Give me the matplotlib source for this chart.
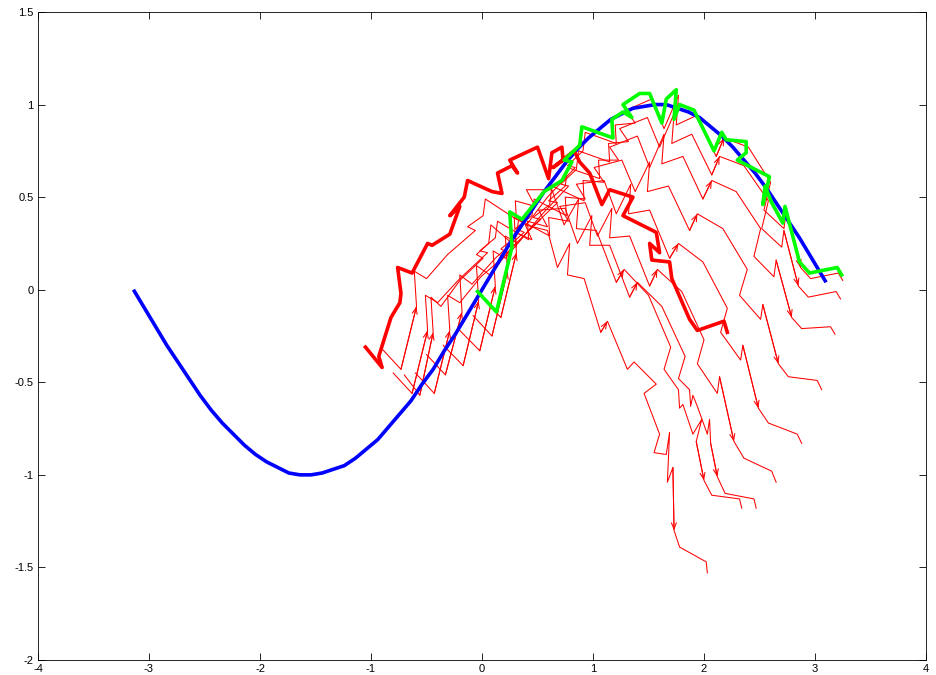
import matplotlib
matplotlib.use("Agg")
import matplotlib.pyplot as plt

plt.rcParams['font.family'] = ['Liberation Sans', 'DejaVu Sans']
plt.rcParams['axes.unicode_minus'] = False

# true trajectory (blue)
true_x = [-3.14, -3.04, -2.94, -2.84, -2.74, -2.64, -2.54, -2.44, -2.34, -2.24, -2.14, -2.04,
          -1.94, -1.84, -1.74, -1.64, -1.54, -1.44, -1.34, -1.24, -1.14, -1.04, -0.94, -0.84,
          -0.74, -0.64, -0.54, -0.44, -0.34, -0.24, -0.14, -0.04, 0.06, 0.16, 0.26, 0.36,
          0.46, 0.56, 0.66, 0.76, 0.86, 0.96, 1.06, 1.16, 1.26, 1.36, 1.46, 1.56, 1.66, 1.76,
          1.86, 1.96, 2.06, 2.16, 2.26, 2.36, 2.46, 2.56, 2.66, 2.76, 2.86, 2.96, 3.06, 3.10]
true_y = [0.00, -0.10, -0.20, -0.30, -0.39, -0.48, -0.57, -0.65, -0.72, -0.78, -0.84, -0.89,
          -0.93, -0.96, -0.99, -1.00, -1.00, -0.99, -0.97, -0.95, -0.91, -0.86, -0.81, -0.74,
          -0.67, -0.60, -0.51, -0.43, -0.33, -0.24, -0.14, -0.04, 0.06, 0.16, 0.26, 0.35,
          0.44, 0.53, 0.61, 0.69, 0.76, 0.82, 0.87, 0.92, 0.95, 0.98, 0.99, 1.00, 1.00, 0.98,
          0.96, 0.93, 0.88, 0.83, 0.77, 0.70, 0.63, 0.55, 0.46, 0.37, 0.28, 0.18, 0.08, 0.04]

# measured trajectory (green)
meas_x = [-0.04, 0.13, 0.27, 0.25, 0.36, 0.56, 0.72, 0.81, 0.74, 0.88, 0.90, 1.18, 1.17,
          1.27, 1.35, 1.27, 1.42, 1.51, 1.62, 1.66, 1.75, 1.73, 1.78, 1.91, 2.09, 2.16,
          2.20, 2.38, 2.38, 2.30, 2.59, 2.53, 2.55, 2.61, 2.71, 2.73, 2.86, 2.95, 3.20, 3.24]
meas_y = [-0.01, -0.12, 0.23, 0.42, 0.38, 0.53, 0.59, 0.69, 0.70, 0.78, 0.88, 0.82, 0.92,
          0.96, 0.93, 1.00, 1.06, 1.06, 0.90, 1.03, 1.08, 0.92, 1.00, 0.97, 0.75, 0.85,
          0.81, 0.80, 0.74, 0.70, 0.61, 0.46, 0.56, 0.47, 0.36, 0.45, 0.15, 0.09, 0.12, 0.08]

# estimated trajectory (thick red)
est_x = [-1.05, -0.90, -0.93, -0.82, -0.74, -0.73, -0.76, -0.63, -0.49, -0.45, -0.29, -0.20,
         -0.29, -0.16, -0.13, 0.09, 0.18, 0.14, 0.27, 0.32, 0.25, 0.50, 0.60, 0.63, 0.72,
         0.73, 0.64, 0.83, 0.88, 0.97, 1.08, 1.15, 1.36, 1.27, 1.57, 1.60, 1.51, 1.53, 1.69,
         1.71, 1.87, 1.94, 2.18, 2.21]
est_y = [-0.31, -0.42, -0.36, -0.15, -0.07, -0.02, 0.12, 0.09, 0.25, 0.24, 0.30, 0.45,
         0.40, 0.50, 0.59, 0.53, 0.52, 0.63, 0.67, 0.63, 0.70, 0.77, 0.60, 0.74, 0.77,
         0.70, 0.66, 0.75, 0.69, 0.63, 0.46, 0.54, 0.50, 0.40, 0.31, 0.20, 0.25, 0.16, 0.15,
         0.06, -0.16, -0.22, -0.17, -0.23]

# particle trajectories (thin red)
p1_x = [0.00, 0.17, 0.31, 0.29, 0.40, 0.59, 0.84, 0.77, 0.91, 0.93, 1.21, 1.20, 1.38, 1.30,
        1.53, 1.64, 1.77, 1.75, 1.93, 2.11, 2.18, 2.40, 2.60, 2.54, 2.72, 2.74, 2.87, 2.96,
        3.21, 3.25]
p1_y = [-0.04, -0.15, 0.20, 0.39, 0.35, 0.50, 0.66, 0.67, 0.75, 0.85, 0.79, 0.89, 0.90, 0.97,
        1.03, 0.87, 1.05, 0.89, 0.94, 0.72, 0.82, 0.77, 0.58, 0.43, 0.33, 0.42, 0.12, 0.06,
        0.09, 0.05]
p2_x = [-0.08, 0.09, 0.23, 0.21, 0.32, 0.53, 0.78, 0.71, 0.85, 0.87, 1.15, 1.14, 1.32, 1.24,
        1.49, 1.60, 1.73, 1.71, 1.89, 2.07, 2.14, 2.36, 2.58, 2.52, 2.70, 2.72, 2.85, 2.94,
        3.19, 3.23]
p2_y = [-0.14, -0.25, 0.10, 0.29, 0.25, 0.40, 0.56, 0.57, 0.65, 0.75, 0.69, 0.79, 0.80, 0.87,
        0.93, 0.77, 0.95, 0.79, 0.84, 0.62, 0.72, 0.67, 0.48, 0.33, 0.23, 0.32, 0.02, -0.04,
        -0.01, -0.05]
p3_x = [-0.20, -0.02, 0.12, 0.10, 0.21, 0.42, 0.68, 0.60, 0.75, 0.77, 1.06, 1.05, 1.23, 1.15,
        1.40, 1.51, 1.64, 1.62, 1.81, 1.99, 2.07, 2.29, 2.51, 2.45, 2.63, 2.65, 2.79, 2.88,
        3.14, 3.18]
p3_y = [-0.22, -0.33, 0.02, 0.21, 0.17, 0.32, 0.47, 0.48, 0.56, 0.66, 0.60, 0.70, 0.70, 0.77,
        0.83, 0.66, 0.84, 0.68, 0.72, 0.49, 0.59, 0.53, 0.33, 0.18, 0.07, 0.16, -0.15, -0.21,
        -0.20, -0.24]
p4_x = [-0.35, -0.17, -0.03, -0.05, 0.07, 0.27, 0.53, 0.46, 0.61, 0.63, 0.92, 0.91, 1.10, 1.01,
        1.26, 1.38, 1.51, 1.49, 1.68, 1.87, 1.94, 2.17, 2.39, 2.32, 2.51, 2.53, 2.67, 2.76,
        3.02, 3.06]
p4_y = [-0.30, -0.41, -0.06, 0.13, 0.08, 0.23, 0.38, 0.39, 0.46, 0.56, 0.48, 0.59, 0.58, 0.66,
        0.70, 0.53, 0.69, 0.53, 0.56, 0.32, 0.41, 0.33, 0.11, -0.03, -0.16, -0.08, -0.40, -0.47,
        -0.49, -0.54]
p5_x = [-0.50, -0.33, -0.18, -0.20, -0.09, 0.12, 0.38, 0.30, 0.45, 0.47, 0.76, 0.75, 0.93, 0.85,
        1.10, 1.21, 1.34, 1.32, 1.51, 1.69, 1.77, 1.99, 2.21, 2.15, 2.33, 2.35, 2.49, 2.58,
        2.84, 2.88]
p5_y = [-0.35, -0.46, -0.12, 0.08, 0.03, 0.17, 0.31, 0.33, 0.40, 0.49, 0.40, 0.50, 0.49, 0.57,
        0.59, 0.41, 0.57, 0.41, 0.43, 0.17, 0.25, 0.15, -0.10, -0.23, -0.38, -0.30, -0.64, -0.72,
        -0.78, -0.83]
p6_x = [-0.60, -0.43, -0.29, -0.31, -0.20, -0.01, 0.24, 0.17, 0.31, 0.33, 0.61, 0.60, 0.78, 0.70,
        0.93, 1.04, 1.17, 1.15, 1.33, 1.51, 1.58, 1.80, 2.00, 1.94, 2.12, 2.14, 2.27, 2.36,
        2.61, 2.65]
p6_y = [-0.45, -0.56, -0.22, -0.03, -0.07, 0.07, 0.20, 0.22, 0.29, 0.38, 0.29, 0.39, 0.37, 0.45,
        0.47, 0.29, 0.44, 0.28, 0.29, 0.02, 0.11, -0.01, -0.27, -0.40, -0.56, -0.47, -0.82, -0.91,
        -0.98, -1.04]
p7_x = [-0.80, -0.63, -0.49, -0.51, -0.40, -0.20, 0.05, -0.02, 0.12, 0.14, 0.42, 0.41, 0.59, 0.51,
        0.75, 0.86, 0.99, 0.97, 1.15, 1.33, 1.40, 1.62, 1.83, 1.77, 1.87, 1.88, 1.90, 1.94,
        2.03, 2.05, 2.06, 2.12, 2.19, 2.45, 2.47]
p7_y = [-0.45, -0.56, -0.22, -0.03, -0.07, 0.06, 0.20, 0.21, 0.28, 0.37, 0.27, 0.37, 0.34, 0.43,
        0.44, 0.25, 0.40, 0.24, 0.24, -0.04, 0.04, -0.09, -0.36, -0.48, -0.54, -0.63, -0.57, -0.63,
        -0.78, -0.70, -0.83, -1.01, -1.10, -1.13, -1.18]
p8_x = [-0.90, -0.73, -0.59, -0.61, -0.50, -0.31, -0.06, -0.13, 0.01, 0.03, 0.31, 0.30, 0.48, 0.40,
        0.63, 0.74, 0.87, 0.85, 1.03, 1.21, 1.28, 1.50, 1.70, 1.64, 1.77, 1.78, 1.81, 1.90,
        1.98, 1.93, 2.00, 2.07, 2.32, 2.34]
p8_y = [-0.32, -0.43, -0.09, 0.10, 0.06, 0.19, 0.32, 0.34, 0.40, 0.49, 0.38, 0.48, 0.45, 0.54,
        0.54, 0.35, 0.49, 0.33, 0.32, 0.04, 0.11, -0.03, -0.31, -0.43, -0.54, -0.64, -0.62, -0.78,
        -0.70, -0.82, -1.03, -1.11, -1.13, -1.18]
p9_x = [-0.70, -0.56, -0.44, -0.46, -0.37, -0.20, 0.01, -0.05, 0.06, 0.08, 0.31, 0.30, 0.45, 0.39,
        0.59, 0.68, 0.79, 0.77, 0.92, 1.07, 1.13, 1.31, 1.37, 1.57, 1.46, 1.60, 1.55, 1.66,
        1.69, 1.67, 1.72, 1.73, 1.78, 2.02, 2.03]
p9_y = [-0.46, -0.57, -0.23, -0.04, -0.09, 0.05, 0.17, 0.19, 0.25, 0.35, 0.23, 0.31, 0.27, 0.35,
        0.32, 0.12, 0.25, 0.08, 0.06, -0.23, -0.17, -0.43, -0.39, -0.51, -0.56, -0.78, -0.88, -0.89,
        -0.77, -1.04, -0.96, -1.30, -1.39, -1.47, -1.53]

particles = [(p1_x, p1_y), (p2_x, p2_y), (p3_x, p3_y), (p4_x, p4_y), (p5_x, p5_y),
             (p6_x, p6_y), (p7_x, p7_y), (p8_x, p8_y), (p9_x, p9_y)]

xticks = [-4, -3, -2, -1, 0, 1, 2, 3, 4]
yticks = [-2, -1.5, -1, -0.5, 0, 0.5, 1, 1.5]
xlabels = ['-4', '-3', '-2', '-1', '0', '1', '2', '3', '4']
ylabels = ['-2', '-1.5', '-1', '-0.5', '0', '0.5', '1', '1.5']

fig = plt.figure(figsize=(9.37, 6.75), dpi=100)
ax = fig.add_axes([38 / 937, 15 / 675, 888 / 937, 648 / 675])

red = (1, 0, 0)
for px, py in particles:
    ax.plot(px, py, color=red, lw=0.75, zorder=2)
    # small open arrowheads along each particle path
    n = len(px)
    for i in [2, 20, n - 4]:
        ax.annotate("", xy=(px[i], py[i]), xytext=(px[i - 1], py[i - 1]),
                    arrowprops=dict(arrowstyle="->,head_length=0.45,head_width=0.18",
                                    color=red, lw=0.75, mutation_scale=10,
                                    shrinkA=0, shrinkB=0),
                    zorder=2)

ax.plot(true_x, true_y, color=(0, 0, 1), lw=2.6, zorder=3, solid_capstyle='butt')
ax.plot(est_x, est_y, color=red, lw=2.6, zorder=4)
ax.plot(meas_x, meas_y, color=(0, 1, 0), lw=2.6, zorder=5)

ax.set_xlim(-4, 4)
ax.set_ylim(-2, 1.5)
ax.set_xticks(xticks)
ax.set_xticklabels(xlabels)
ax.set_yticks(yticks)
ax.set_yticklabels(ylabels)
ax.tick_params(direction='in', top=True, right=True, length=5, width=0.6,
               labelsize=8, pad=3)
for sp in ax.spines.values():
    sp.set_linewidth(0.6)

fig.savefig("out.png", dpi=100)
